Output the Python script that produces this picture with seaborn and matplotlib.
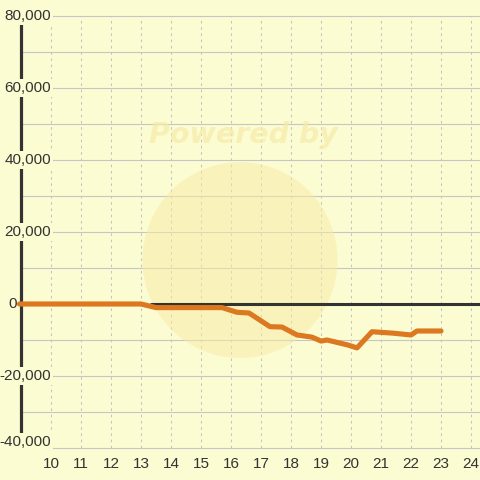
import pandas as pd
import seaborn as sns
import matplotlib.pyplot as plt
from matplotlib.patches import Ellipse

# values
hours = [8.95, 13.0, 13.5, 15.7, 16.2, 16.6, 17.3, 17.7, 18.2, 18.7, 19.0,
         19.2, 19.9, 20.2, 20.7, 21.4, 22.0, 22.2, 23.0]
balance = [0, 0, -1000, -1000, -2300, -2500, -6300, -6400, -8600, -9200, -10300,
           -10000, -11400, -12200, -7700, -8100, -8600, -7500, -7500]
x_ticks = list(range(10, 25))
y_ticks = list(range(-40000, 80001, 20000))
y_grid = list(range(-40000, 80001, 10000))

bg = '#fcfcd2'
ink = '#333333'

df = pd.DataFrame({'hour': hours, 'balance': balance})

sns.set_style('white')
plt.rcParams['font.family'] = ['Liberation Sans', 'DejaVu Sans']

fig = plt.figure(figsize=(4.8, 4.8), dpi=100, facecolor=bg)
ax = fig.add_axes([0, 0, 1, 1], facecolor=bg)
ax.set_xlim(8.3, 24.3)
ax.set_ylim(-48889, 84444)
for s in ax.spines.values():
    s.set_visible(False)
ax.set_xticks([])
ax.set_yticks([])

# grid
ax.hlines(y_grid, 9.0, 24.3, color='#c6c6c6', lw=0.8, zorder=1)
ax.vlines(x_ticks, -40000, 80000, color='#c4c4c4', lw=0.75, linestyles=(0, (2.5, 3.5)), zorder=1)

# faint watermark
ax.add_patch(Ellipse((16.3, 12200), 6.5, 54400, facecolor='#f8eaa6', alpha=0.5,
                     edgecolor='none', zorder=2))
ax.text(16.4, 47000, 'Powered by', fontsize=20.5, fontweight='bold', style='italic',
        family='DejaVu Sans', color='#f6eaa6', alpha=0.7, ha='center', va='center', zorder=2)

# axis lines
ax.vlines(9.0, -40000, 80000, color=ink, lw=2.3, zorder=3)
ax.axhline(0, xmin=(13.33 - 8.3) / 16.0, xmax=1, color=ink, lw=2.2, zorder=3)

sns.lineplot(data=df, x='hour', y='balance', color='#dc7820', lw=3.7, ax=ax, zorder=5)
ax.set_xlabel('')
ax.set_ylabel('')

for v in y_ticks:
    xpos = 8.87 if v == 0 else 10.0
    yoff = 1700 if v == -40000 else 0
    ax.text(xpos, v + yoff, f'{v:,}', ha='right', va='center', fontsize=11, color=ink,
            zorder=4, bbox=dict(facecolor=bg, edgecolor='none', pad=1.5))
for v in x_ticks:
    ax.text(v, -44500, str(v), ha='center', va='center', fontsize=11, color=ink)

fig.savefig('out.png', dpi=100, facecolor=bg)
